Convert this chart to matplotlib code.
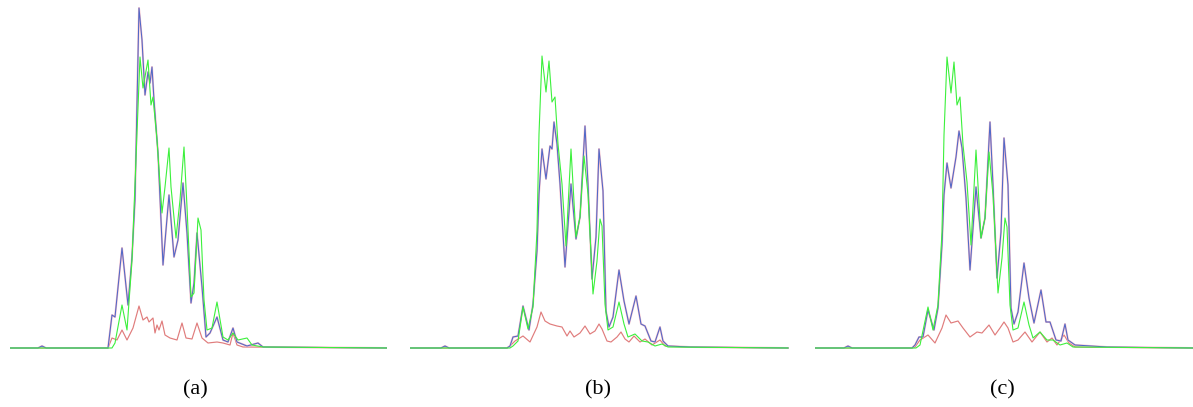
# three colour-histogram panels (a), (b), (c)
import matplotlib
matplotlib.use("Agg")
import matplotlib.pyplot as plt

# ---- data: bin position / count height ----
# panel (a)
a_blue_x = [0, 28, 32, 36, 98, 102, 105, 112, 118, 122, 125, 129, 132, 135, 138, 140, 142, 144, 148,
            153, 159, 164, 168, 173, 177, 181, 184, 187, 192, 196, 200, 207, 213, 218, 223, 227, 237,
            248, 253, 378]
a_blue_y = [0, 0, 2, 0, 0, 33, 31, 100, 43, 91, 148, 340, 308, 253, 276, 265, 281, 248, 195,
            83, 153, 91, 108, 165, 115, 45, 65, 115, 61, 11, 15, 31, 8, 6, 20, 6, 2,
            5, 1, 0]
a_green_x = [0, 102, 105, 112, 117, 122, 127, 130, 133, 138, 141, 143, 147, 152, 155, 159, 161, 166,
             170, 174, 177, 181, 184, 188, 191, 194, 197, 202, 207, 213, 218, 223, 228, 237, 242,
             253, 378]
a_green_y = [0, 0, 5, 43, 18, 88, 215, 291, 260, 288, 243, 251, 208, 135, 161, 200, 161, 110,
             148, 201, 141, 51, 55, 130, 118, 48, 18, 20, 46, 11, 8, 15, 8, 10, 3,
             1, 0]
a_red_x = [0, 98, 102, 107, 112, 117, 123, 129, 133, 137, 139, 143, 145, 147, 149, 152, 155, 160,
           167, 172, 176, 182, 187, 192, 198, 207, 213, 220, 223, 227, 233, 378]
a_red_y = [0, 0, 10, 8, 18, 8, 20, 42, 28, 31, 26, 30, 15, 23, 18, 27, 13, 10,
           8, 25, 10, 9, 25, 10, 5, 6, 5, 3, 15, 3, 1, 0]

# panel (b)
b_blue_x = [0, 31, 35, 39, 97, 100, 103, 108, 113, 119, 123, 127, 129, 132, 136, 140, 142, 144, 147,
            150, 155, 161, 166, 170, 175, 178, 182, 186, 189, 193, 196, 199, 203, 209, 214, 219,
            226, 231, 235, 241, 245, 250, 253, 258, 280, 378]
b_blue_y = [0, 0, 2, 0, 0, 2, 11, 12, 42, 18, 44, 97, 154, 199, 169, 202, 199, 226, 204,
            164, 81, 164, 109, 131, 222, 164, 69, 111, 199, 157, 37, 21, 31, 78, 47, 24,
            52, 24, 22, 7, 6, 21, 7, 2, 1, 0]
b_green_x = [0, 100, 103, 108, 113, 118, 123, 127, 129, 132, 136, 139, 142, 145, 148, 152, 156, 161,
             166, 170, 174, 178, 183, 187, 190, 192, 195, 198, 203, 209, 214, 218, 225, 232, 238,
             245, 252, 258, 378]
b_green_y = [0, 0, 2, 7, 41, 19, 41, 117, 214, 292, 256, 287, 246, 251, 204, 164, 102, 199,
             111, 131, 192, 154, 54, 87, 129, 122, 44, 18, 21, 46, 24, 11, 14, 7, 6,
             2, 4, 1, 0]
b_red_x = [0, 97, 100, 105, 113, 120, 127, 131, 135, 140, 147, 152, 157, 160, 164, 170, 175, 180,
           185, 189, 192, 197, 201, 207, 211, 215, 219, 224, 230, 235, 242, 250, 255, 280, 378]
b_red_y = [0, 0, 2, 7, 12, 6, 21, 36, 27, 24, 22, 21, 12, 17, 11, 15, 22, 14,
           17, 24, 19, 7, 6, 11, 16, 9, 6, 12, 6, 9, 3, 8, 2, 1, 0]

# panel (c)
c_blue_x = [0, 29, 33, 37, 97, 100, 104, 108, 113, 119, 123, 127, 129, 132, 136, 141, 144, 147, 151,
            155, 161, 166, 170, 175, 178, 182, 186, 189, 193, 196, 199, 203, 209, 214, 219, 226,
            231, 235, 241, 246, 250, 253, 260, 292, 378]
c_blue_y = [0, 0, 2, 0, 0, 3, 11, 11, 38, 18, 40, 103, 153, 185, 160, 191, 217, 200, 150,
            78, 161, 110, 130, 226, 163, 70, 116, 210, 163, 40, 24, 36, 85, 50, 25, 58,
            26, 26, 8, 7, 24, 8, 3, 1, 0]
c_green_x = [0, 101, 105, 113, 118, 123, 127, 129, 132, 136, 139, 142, 145, 148, 152, 156, 161, 166,
             170, 174, 178, 183, 187, 190, 192, 195, 198, 203, 209, 214, 218, 225, 232, 238, 245,
             252, 258, 378]
c_green_y = [0, 0, 3, 41, 18, 43, 116, 213, 291, 255, 286, 243, 251, 203, 166, 103, 198, 110,
             130, 196, 153, 55, 90, 130, 121, 43, 18, 20, 46, 23, 10, 16, 8, 8, 3,
             5, 1, 0]
c_red_x = [0, 97, 100, 105, 113, 120, 127, 131, 136, 143, 148, 155, 162, 167, 174, 180, 185, 189,
           193, 198, 203, 210, 217, 225, 232, 237, 242, 249, 254, 260, 378]
c_red_y = [0, 0, 1, 8, 13, 5, 20, 33, 25, 27, 20, 11, 16, 15, 23, 13, 20, 26,
           20, 6, 8, 16, 6, 16, 6, 10, 3, 13, 5, 1, 0]

captions = ["(a)", "(b)", "(c)"]

# colours of the curves
BLUE = "#5068c8"
PINK = "#f6bcc6"
GREEN = "#3cf03c"
RED = "#e07c7c"

W, H = 1193, 407
fig = plt.figure(figsize=(W / 100, H / 100), dpi=100)
fig.patch.set_facecolor("white")

# left / right pixel edge of each panel
panel_px = [(10, 387), (410, 792), (815, 1193)]
panels = [
    (a_blue_x, a_blue_y, a_green_x, a_green_y, a_red_x, a_red_y),
    (b_blue_x, b_blue_y, b_green_x, b_green_y, b_red_x, b_red_y),
    (c_blue_x, c_blue_y, c_green_x, c_green_y, c_red_x, c_red_y),
]
cap_x = [195, 598, 1002]

top_px, bottom_px = 2, 355
for i, (bx, by, gx, gy, rx, ry) in enumerate(panels):
    left, right = panel_px[i]
    ax = fig.add_axes([left / W, 1 - bottom_px / H, (right - left) / W, (bottom_px - top_px) / H])
    ax.set_facecolor("#fdfbfb")
    ax.plot(rx, ry, color=RED, lw=0.85)
    ax.plot(bx, by, color=PINK, lw=1.4)
    ax.plot(bx, by, color=BLUE, lw=0.75)
    ax.plot(gx, gy, color=GREEN, lw=0.8)
    ax.set_xlim(0, right - left)
    ax.set_ylim(-(bottom_px - 348), 348 - top_px)
    ax.axis("off")
    ax.patch.set_visible(True)
    fig.text(cap_x[i] / W, 1 - 390 / H, captions[i], ha="center", va="center",
             fontsize=16, family=["Liberation Serif", "DejaVu Serif"])

fig.savefig("out.png", dpi=100)
